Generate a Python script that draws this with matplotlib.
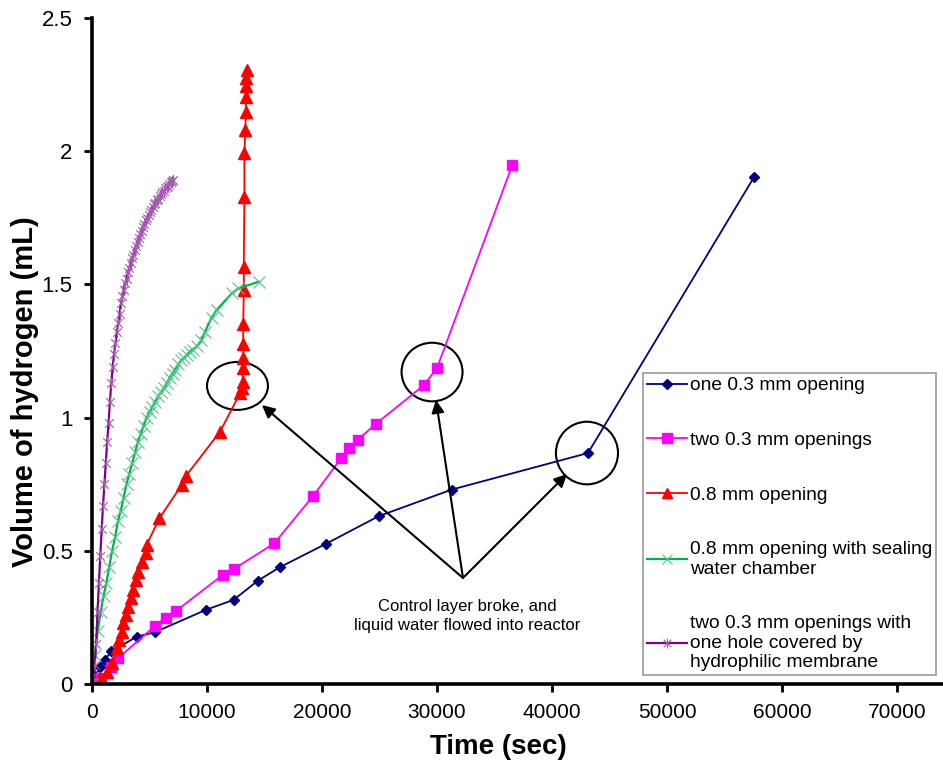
import matplotlib
matplotlib.use('Agg')
import matplotlib.pyplot as plt
from matplotlib.patches import Ellipse
from matplotlib.path import Path

# --- data ------------------------------------------------------------------
one_03_t = [0, 300, 725, 1100, 1680, 3910, 5450, 9940, 12320, 14430, 16320,
            20380, 24930, 31300, 43130, 57570]
one_03_v = [0, 0.03, 0.063, 0.090, 0.122, 0.178, 0.194, 0.279, 0.316, 0.388,
            0.438, 0.527, 0.630, 0.730, 0.867, 1.903]

two_03_t = [0, 780, 1650, 2300, 5480, 6400, 7300, 11360, 12350, 15850, 19250,
            21650, 22380, 23100, 24670, 28870, 30000, 36550]
two_03_v = [0, 0.021, 0.065, 0.098, 0.218, 0.249, 0.274, 0.409, 0.432, 0.528,
            0.707, 0.847, 0.887, 0.916, 0.976, 1.122, 1.186, 1.948]

open_08_t = [0, 700, 1280, 1770, 2140, 2380, 2580, 2720, 2930, 3160, 3360,
             3590, 3830, 4030, 4320, 4660, 4750, 5860, 7800, 8170, 11130,
             12870, 13010, 13100, 13100, 13150, 13150, 13150, 13200, 13200,
             13250, 13250, 13330, 13380, 13380, 13420, 13420, 13500]
open_08_v = [0, 0.021, 0.046, 0.077, 0.134, 0.165, 0.196, 0.228, 0.259, 0.290,
             0.322, 0.353, 0.390, 0.422, 0.459, 0.490, 0.522, 0.622, 0.747,
             0.781, 0.947, 1.091, 1.110, 1.135, 1.185, 1.222, 1.278, 1.353,
             1.479, 1.566, 1.829, 1.992, 2.080, 2.148, 2.205, 2.243, 2.273,
             2.305]

sealed_t = [0, 250, 500, 750, 1000, 1250, 1500, 1750, 2000, 2250, 2500, 2750,
            3000, 3250, 3500, 3750, 4000, 4250, 4500, 4750, 5000, 5250, 5500,
            5750, 6000, 6250, 6500, 6750, 7000, 7250, 7500, 7750, 8000, 8250,
            8500, 8750, 9100, 9500, 9800, 10400, 10840, 12150, 12720, 14500]
sealed_v = [0, 0.11, 0.20, 0.27, 0.33, 0.38, 0.44, 0.50, 0.55, 0.61, 0.65,
            0.70, 0.75, 0.79, 0.83, 0.87, 0.91, 0.94, 0.97, 1.00, 1.02, 1.04,
            1.06, 1.08, 1.095, 1.11, 1.13, 1.15, 1.165, 1.18, 1.20, 1.215,
            1.225, 1.235, 1.248, 1.255, 1.267, 1.29, 1.32, 1.375, 1.404, 1.466,
            1.485, 1.51]

membrane_t = [0, 120, 240, 360, 480, 600, 720, 840, 960, 1080, 1200, 1320,
              1440, 1560, 1680, 1800, 1920, 2040, 2160, 2280, 2400, 2520, 2640,
              2760, 2880, 3000, 3120, 3240, 3360, 3480, 3600, 3720, 3840, 3960,
              4080, 4200, 4320, 4440, 4560, 4680, 4800, 4920, 5040, 5160, 5280,
              5400, 5520, 5640, 5760, 5880, 6000, 6120, 6240, 6360, 6480, 6600,
              6720, 6840, 6960, 7040]
membrane_v = [0, 0.03, 0.07, 0.15, 0.27, 0.38, 0.48, 0.58, 0.67, 0.75, 0.83,
              0.91, 0.98, 1.06, 1.13, 1.19, 1.24, 1.28, 1.32, 1.355, 1.39,
              1.43, 1.455, 1.48, 1.505, 1.52, 1.545, 1.56, 1.58, 1.60, 1.61,
              1.63, 1.645, 1.66, 1.675, 1.69, 1.70, 1.715, 1.725, 1.74, 1.75,
              1.76, 1.77, 1.78, 1.79, 1.80, 1.805, 1.815, 1.82, 1.83, 1.84,
              1.845, 1.85, 1.86, 1.865, 1.87, 1.878, 1.885, 1.89, 1.893]

labels = ['one 0.3 mm opening', 'two 0.3 mm openings', '0.8 mm opening',
          '0.8 mm opening with sealing\nwater chamber',
          'two 0.3 mm openings with\none hole covered by\nhydrophilic membrane']
note = 'Control layer broke, and\nliquid water flowed into reactor'
x_ticks = [0, 10000, 20000, 30000, 40000, 50000, 60000, 70000]
y_ticks = [0, 0.5, 1, 1.5, 2, 2.5]
y_ticklabels = ['0', '0.5', '1', '1.5', '2', '2.5']

# Excel style "star" marker: an x with a vertical stroke through it
star = Path([(-1, -1), (1, 1), (-1, 1), (1, -1), (0, -1.3), (0, 1.3)],
            [Path.MOVETO, Path.LINETO, Path.MOVETO, Path.LINETO,
             Path.MOVETO, Path.LINETO])

plt.rcParams['font.family'] = ['Liberation Sans', 'DejaVu Sans']

fig = plt.figure(figsize=(9.43, 7.63), dpi=100)
ax = fig.add_axes([92 / 943, 79 / 763, 862.5 / 943, 666 / 763])

ax.plot(one_03_t, one_03_v, color='#000080', lw=1.3, marker='D', ms=5.5,
        label=labels[0])
ax.plot(two_03_t, two_03_v, color='#FF00FF', lw=1.3, marker='s', ms=7.5,
        label=labels[1])
ax.plot(open_08_t, open_08_v, color='#FF0000', lw=1.3, marker='^', ms=8,
        label=labels[2])
ax.plot(sealed_t, sealed_v, color='#00B050', lw=1.6, marker='x', ms=8,
        mew=0.8, mec='#55C585', label=labels[3])
ax.plot(membrane_t, membrane_v, color='#800080', lw=1.6, marker=star, ms=8,
        mew=0.8, mec='#A45AAE', label=labels[4])

ax.set_xlim(0, 75000)
ax.set_ylim(0, 2.5)
ax.set_xticks(x_ticks)
ax.set_yticks(y_ticks)
ax.set_yticklabels(y_ticklabels)
ax.tick_params(width=2, length=6, direction='out', pad=8)
ax.tick_params(axis='x', labelsize=15)
ax.tick_params(axis='y', labelsize=16)
for side in ['top', 'right']:
    ax.spines[side].set_visible(False)
for side in ['left', 'bottom']:
    ax.spines[side].set_linewidth(2.6)

ax.set_xlabel('Time (sec)', fontsize=20, fontweight='bold')
ax.set_ylabel('Volume of hydrogen (mL)', fontsize=21, fontweight='bold')
ax.xaxis.set_label_coords((498 - 92) / 862.5, -0.075)
ax.yaxis.set_label_coords(-(92 - 11) / 862.5, (684 - 392) / 666)
ax.yaxis.label.set_va('top')

# circles around the points where the control layer broke
circles = [(12650, 1.119, 5300, 0.18), (29570, 1.171, 5300, 0.22),
           (43040, 0.867, 5400, 0.235)]
for cx, cy, w, h in circles:
    ax.add_patch(Ellipse((cx, cy), w, h, fill=False, ec='black', lw=1.5))

apex = (32260, 0.398)
for tip in [(14780, 1.047), (29910, 1.066), (41300, 0.788)]:
    ax.annotate('', xy=tip, xytext=apex,
                arrowprops=dict(arrowstyle='-|>', color='black', lw=1.5,
                                mutation_scale=19, shrinkA=0, shrinkB=0))
ax.text(32600, 0.255, note, ha='center', va='center', fontsize=12,
        linespacing=1.3)

leg = ax.legend(loc='upper left', bbox_to_anchor=(643 / 943, 1 - 373 / 763),
                bbox_transform=fig.transFigure, fontsize=13.8,
                frameon=True, fancybox=False, edgecolor='#808080',
                borderpad=0.2, labelspacing=1.95, handlelength=2.1,
                handletextpad=0.15, borderaxespad=0, markerscale=0.9)
leg.get_frame().set_linewidth(1.2)

fig.savefig('out.png', dpi=100)
